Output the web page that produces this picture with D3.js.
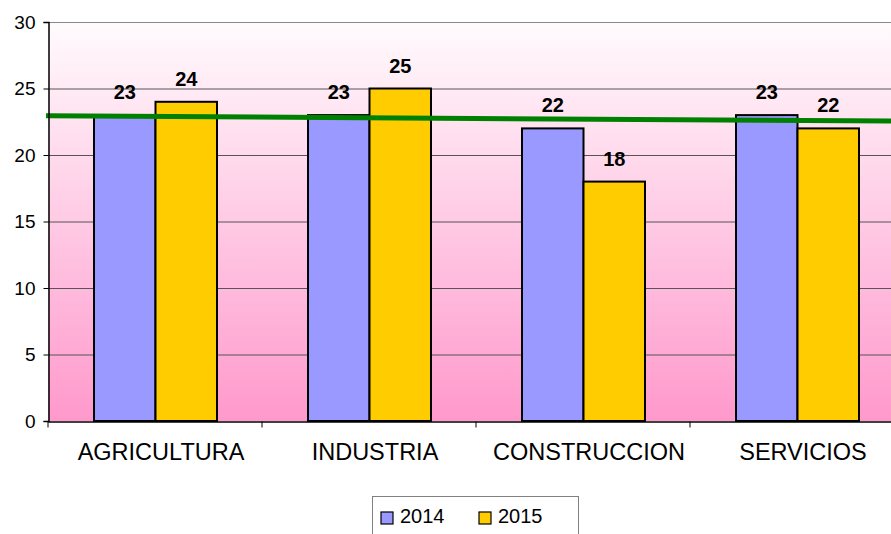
<html>
    <head>
        <meta charset="utf-8">
        <title>Sectores 2014 - 2015</title>
    </head>
    <style>
    body{
        background-color:white;
        padding:0;
        margin:0;
    }
    svg{
        display:block;
        font-family:Arial, 'Liberation Sans', sans-serif;
    }
    </style>
    <body>
        <svg id="chart" width="891" height="534"></svg>
    </body>
    <script src="https://d3js.org/d3.v7.min.js"></script>
    <script>
        // data
        var categories = ["AGRICULTURA", "INDUSTRIA", "CONSTRUCCION", "SERVICIOS"];
        var seriesNames = ["2014", "2015"];
        var values2014 = [23, 23, 22, 23];
        var values2015 = [24, 25, 18, 22];
        var yTicks = [0, 5, 10, 15, 20, 25, 30];
        var colors = ["#9999ff", "#ffcc00"];

        var svg = d3.select("#chart");

        var plotLeft = 48, plotTop = 22, plotBottom = 421;
        var bandWidth = 214;
        var plotRight = plotLeft + bandWidth * categories.length; // runs past the window

        var x = d3.scaleBand().domain(categories).range([plotLeft, plotRight]);
        var xSeries = d3.scaleBand().domain(seriesNames).range([46, 169]);
        var y = d3.scaleLinear().domain([0, 30]).range([plotBottom, plotTop]);

        // background gradient
        var grad = svg.append("defs").append("linearGradient")
            .attr("id", "bg")
            .attr("x1", 0).attr("y1", 0).attr("x2", 0).attr("y2", 1);
        grad.append("stop").attr("offset", "0%").attr("stop-color", "#fffbfd");
        grad.append("stop").attr("offset", "100%").attr("stop-color", "#ff99cc");

        svg.append("rect")
            .attr("x", plotLeft)
            .attr("y", plotTop)
            .attr("width", plotRight - plotLeft)
            .attr("height", plotBottom - plotTop)
            .attr("fill", "url(#bg)");

        // grid lines
        svg.selectAll("line.grid").data(yTicks.filter(function(d) { return d > 0; }))
            .enter().append("line")
            .attr("class", "grid")
            .attr("x1", plotLeft)
            .attr("x2", plotRight)
            .attr("y1", function(d) { return y(d) + 0.5; })
            .attr("y2", function(d) { return y(d) + 0.5; })
            .attr("stroke", function(d) { return d == 30 ? "#8a8a8a" : "#555"; })
            .attr("stroke-width", 1);

        // bars
        var flat = [];
        categories.forEach(function(c, i) {
            flat.push({cat: c, s: "2014", v: values2014[i]});
            flat.push({cat: c, s: "2015", v: values2015[i]});
        });

        svg.selectAll("rect.bar").data(flat)
            .enter().append("rect")
            .attr("class", "bar")
            .attr("x", function(d) { return x(d.cat) + xSeries(d.s); })
            .attr("y", function(d) { return y(d.v); })
            .attr("width", xSeries.bandwidth())
            .attr("height", function(d) { return plotBottom - y(d.v); })
            .attr("fill", function(d) { return colors[seriesNames.indexOf(d.s)]; })
            .attr("stroke", "black")
            .attr("stroke-width", 2);

        // data labels
        svg.selectAll("text.lbl").data(flat)
            .enter().append("text")
            .attr("class", "lbl")
            .attr("x", function(d) { return x(d.cat) + xSeries(d.s) + xSeries.bandwidth() / 2; })
            .attr("y", function(d) { return y(d.v) - 16; })
            .attr("text-anchor", "middle")
            .attr("font-size", "20px")
            .attr("font-weight", "bold")
            .text(function(d) { return d.v; });

        // linear trend of the 2014 series
        var n = values2014.length;
        var mx = (n + 1) / 2;
        var my = d3.mean(values2014);
        var sxy = 0, sxx = 0;
        values2014.forEach(function(v, i) {
            sxy += (i + 1 - mx) * (v - my);
            sxx += (i + 1 - mx) * (i + 1 - mx);
        });
        var slope = sxy / sxx;
        var trend = function(t) { return my + slope * (t - mx); };
        var pos = d3.scaleLinear().domain([0.5, n + 0.5]).range([plotLeft, plotRight]);
        svg.append("line")
            .attr("x1", pos(0.5) - 2)
            .attr("y1", y(trend(0.5)))
            .attr("x2", pos(n + 0.5))
            .attr("y2", y(trend(n + 0.5)))
            .attr("stroke", "#008000")
            .attr("stroke-width", 5);

        // y axis
        var yAxis = d3.axisLeft(y).tickValues(yTicks).tickSize(5).tickPadding(8);
        var gy = svg.append("g")
            .attr("transform", "translate(" + (plotLeft + 0.5) + ",0)")
            .call(yAxis);
        gy.select(".domain").attr("stroke", "black").attr("stroke-width", 1.5);
        gy.selectAll(".tick line").attr("stroke", "black");
        gy.selectAll(".tick text")
            .attr("font-size", "19px")
            .attr("font-family", "Arial, 'Liberation Sans', sans-serif")
            .attr("fill", "black");

        // x axis
        var xAxis = d3.axisBottom(x).tickSize(0).tickPadding(22);
        var gx = svg.append("g")
            .attr("transform", "translate(0," + (plotBottom + 0.5) + ")")
            .call(xAxis);
        gx.select(".domain").attr("stroke", "black").attr("stroke-width", 1.5);
        gx.selectAll(".tick text")
            .attr("font-size", "23.5px")
            .attr("font-family", "Arial, 'Liberation Sans', sans-serif")
            .attr("fill", "black")
            .attr("dx", 6);
        // ticks between categories
        gx.selectAll("line.sep").data(d3.range(categories.length + 1))
            .enter().append("line")
            .attr("class", "sep")
            .attr("x1", function(i) { return plotLeft + i * bandWidth; })
            .attr("x2", function(i) { return plotLeft + i * bandWidth; })
            .attr("y1", 0)
            .attr("y2", 6)
            .attr("stroke", "black");

        // legend
        var legend = svg.append("g").attr("transform", "translate(372,496)");
        legend.append("rect")
            .attr("x", 0.5).attr("y", 0.5)
            .attr("width", 206).attr("height", 50)
            .attr("fill", "white")
            .attr("stroke", "#808080");
        var item = legend.selectAll("g.item").data(seriesNames)
            .enter().append("g")
            .attr("class", "item")
            .attr("transform", function(d, i) { return "translate(" + (9 + i * 98) + ",16)"; });
        item.append("rect")
            .attr("width", 12).attr("height", 12)
            .attr("fill", function(d, i) { return colors[i]; })
            .attr("stroke", "black")
            .attr("stroke-width", 1.2);
        item.append("text")
            .attr("x", 19)
            .attr("y", 11)
            .attr("font-size", "20px")
            .text(function(d) { return d; });
    </script>
</html>
